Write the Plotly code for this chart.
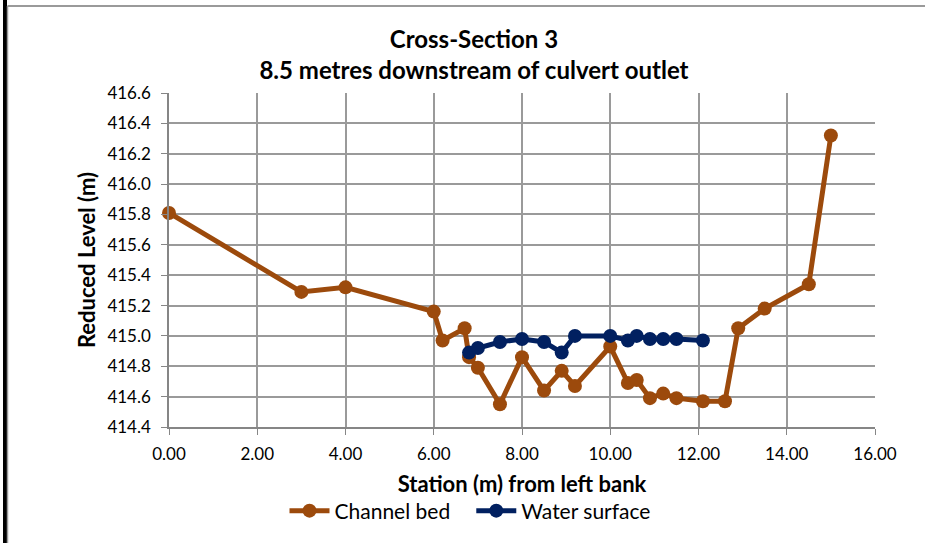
import plotly.graph_objects as go

# Channel bed survey
bed_station = [0.0, 3.0, 4.0, 6.0, 6.2, 6.7, 6.8, 7.0, 7.5, 8.0, 8.5, 8.9, 9.2,
               10.0, 10.4, 10.6, 10.9, 11.2, 11.5, 12.1, 12.6, 12.9, 13.5, 14.5, 15.0]
bed_level = [415.81, 415.29, 415.32, 415.16, 414.97, 415.05, 414.86, 414.79, 414.55,
             414.86, 414.64, 414.77, 414.67, 414.93, 414.69, 414.71, 414.59, 414.62,
             414.59, 414.57, 414.57, 415.05, 415.18, 415.34, 416.32]

# Water surface
ws_station = [6.8, 7.0, 7.5, 8.0, 8.5, 8.9, 9.2, 10.0, 10.4, 10.6, 10.9, 11.2, 11.5, 12.1]
ws_level = [414.89, 414.92, 414.96, 414.98, 414.96, 414.89, 415.00, 415.00, 414.97,
            415.00, 414.98, 414.98, 414.98, 414.97]

x_ticks = [0, 2, 4, 6, 8, 10, 12, 14, 16]
y_ticks = [414.4, 414.6, 414.8, 415.0, 415.2, 415.4, 415.6, 415.8, 416.0, 416.2, 416.4, 416.6]

FONT = "Lato"
BED_COLOR = "#9C4A0C"
WS_COLOR = "#012060"

fig = go.Figure()
fig.add_trace(go.Scatter(
    x=bed_station, y=bed_level, mode="lines+markers", name="Channel bed\u00a0\u00a0\u00a0",
    line=dict(color=BED_COLOR, width=5), marker=dict(size=14, color=BED_COLOR),
    cliponaxis=False))
fig.add_trace(go.Scatter(
    x=ws_station, y=ws_level, mode="lines+markers", name="Water surface",
    line=dict(color=WS_COLOR, width=5), marker=dict(size=14, color=WS_COLOR),
    cliponaxis=False))

W, H = 925, 543
L, R, T, B = 169, 50, 93, 116
pw, ph = W - L - R, H - T - B

def px_x(p):
    return (p - L) / pw

def px_y(p):
    return (H - B - p) / ph

fig.update_layout(
    width=W, height=H,
    margin=dict(l=L, r=R, t=T, b=B),
    paper_bgcolor="white", plot_bgcolor="white",
    font=dict(family=FONT, color="#000000", size=17),
    title=dict(
        text="Cross-Section 3<br>8.5 metres downstream of culvert outlet",
        font=dict(family=FONT, size=24, color="#000000", weight="bold"),
        x=474 / W, xanchor="center", y=1 - 48 / H, yanchor="middle"),
    xaxis=dict(
        range=[0, 16], tickvals=x_ticks, tickformat=".2f",
        showgrid=True, gridcolor="#9a9a9a", gridwidth=1.5,
        showline=True, linecolor="#868686", linewidth=1.5,
        ticks="outside", ticklen=6, tickcolor="#868686",
        tickfont=dict(size=17), zeroline=False, ticklabelstandoff=5,
        title=dict(text="<b>Station (m) from left bank</b>",
                   font=dict(size=22), standoff=13)),
    yaxis=dict(
        range=[414.4, 416.6], tickvals=y_ticks, tickformat=".1f",
        showgrid=True, gridcolor="#9a9a9a", gridwidth=1.5,
        showline=True, linecolor="#868686", linewidth=1.5,
        ticks="outside", ticklen=6, tickcolor="#868686",
        tickfont=dict(size=17), zeroline=False, ticklabelstandoff=7,
        title=dict(text="<b>Reduced Level (m)</b>", font=dict(size=22), standoff=6)),
    legend=dict(
        orientation="h", x=px_x(470), xanchor="center",
        y=px_y(511), yanchor="middle",
        font=dict(size=21), bgcolor="rgba(0,0,0,0)",
        itemwidth=40, tracegroupgap=0),
    showlegend=True,
    shapes=[
        dict(type="rect", xref="paper", yref="paper",
             x0=px_x(3), x1=px_x(7), y0=px_y(H + 5), y1=px_y(-5),
             fillcolor="black", line=dict(width=0), layer="above"),
        dict(type="line", xref="paper", yref="paper",
             x0=px_x(7.5), x1=px_x(7.5), y0=px_y(H + 5), y1=px_y(6),
             line=dict(color="#9a9a9a", width=1.5)),
        dict(type="line", xref="paper", yref="paper",
             x0=px_x(7.5), x1=px_x(W + 5), y0=px_y(6), y1=px_y(6),
             line=dict(color="#9a9a9a", width=2)),
    ],
)

fig.write_html("out.html", config={"displayModeBar": False},
               post_script="document.body.style.margin='0';document.body.style.overflow='hidden';")
